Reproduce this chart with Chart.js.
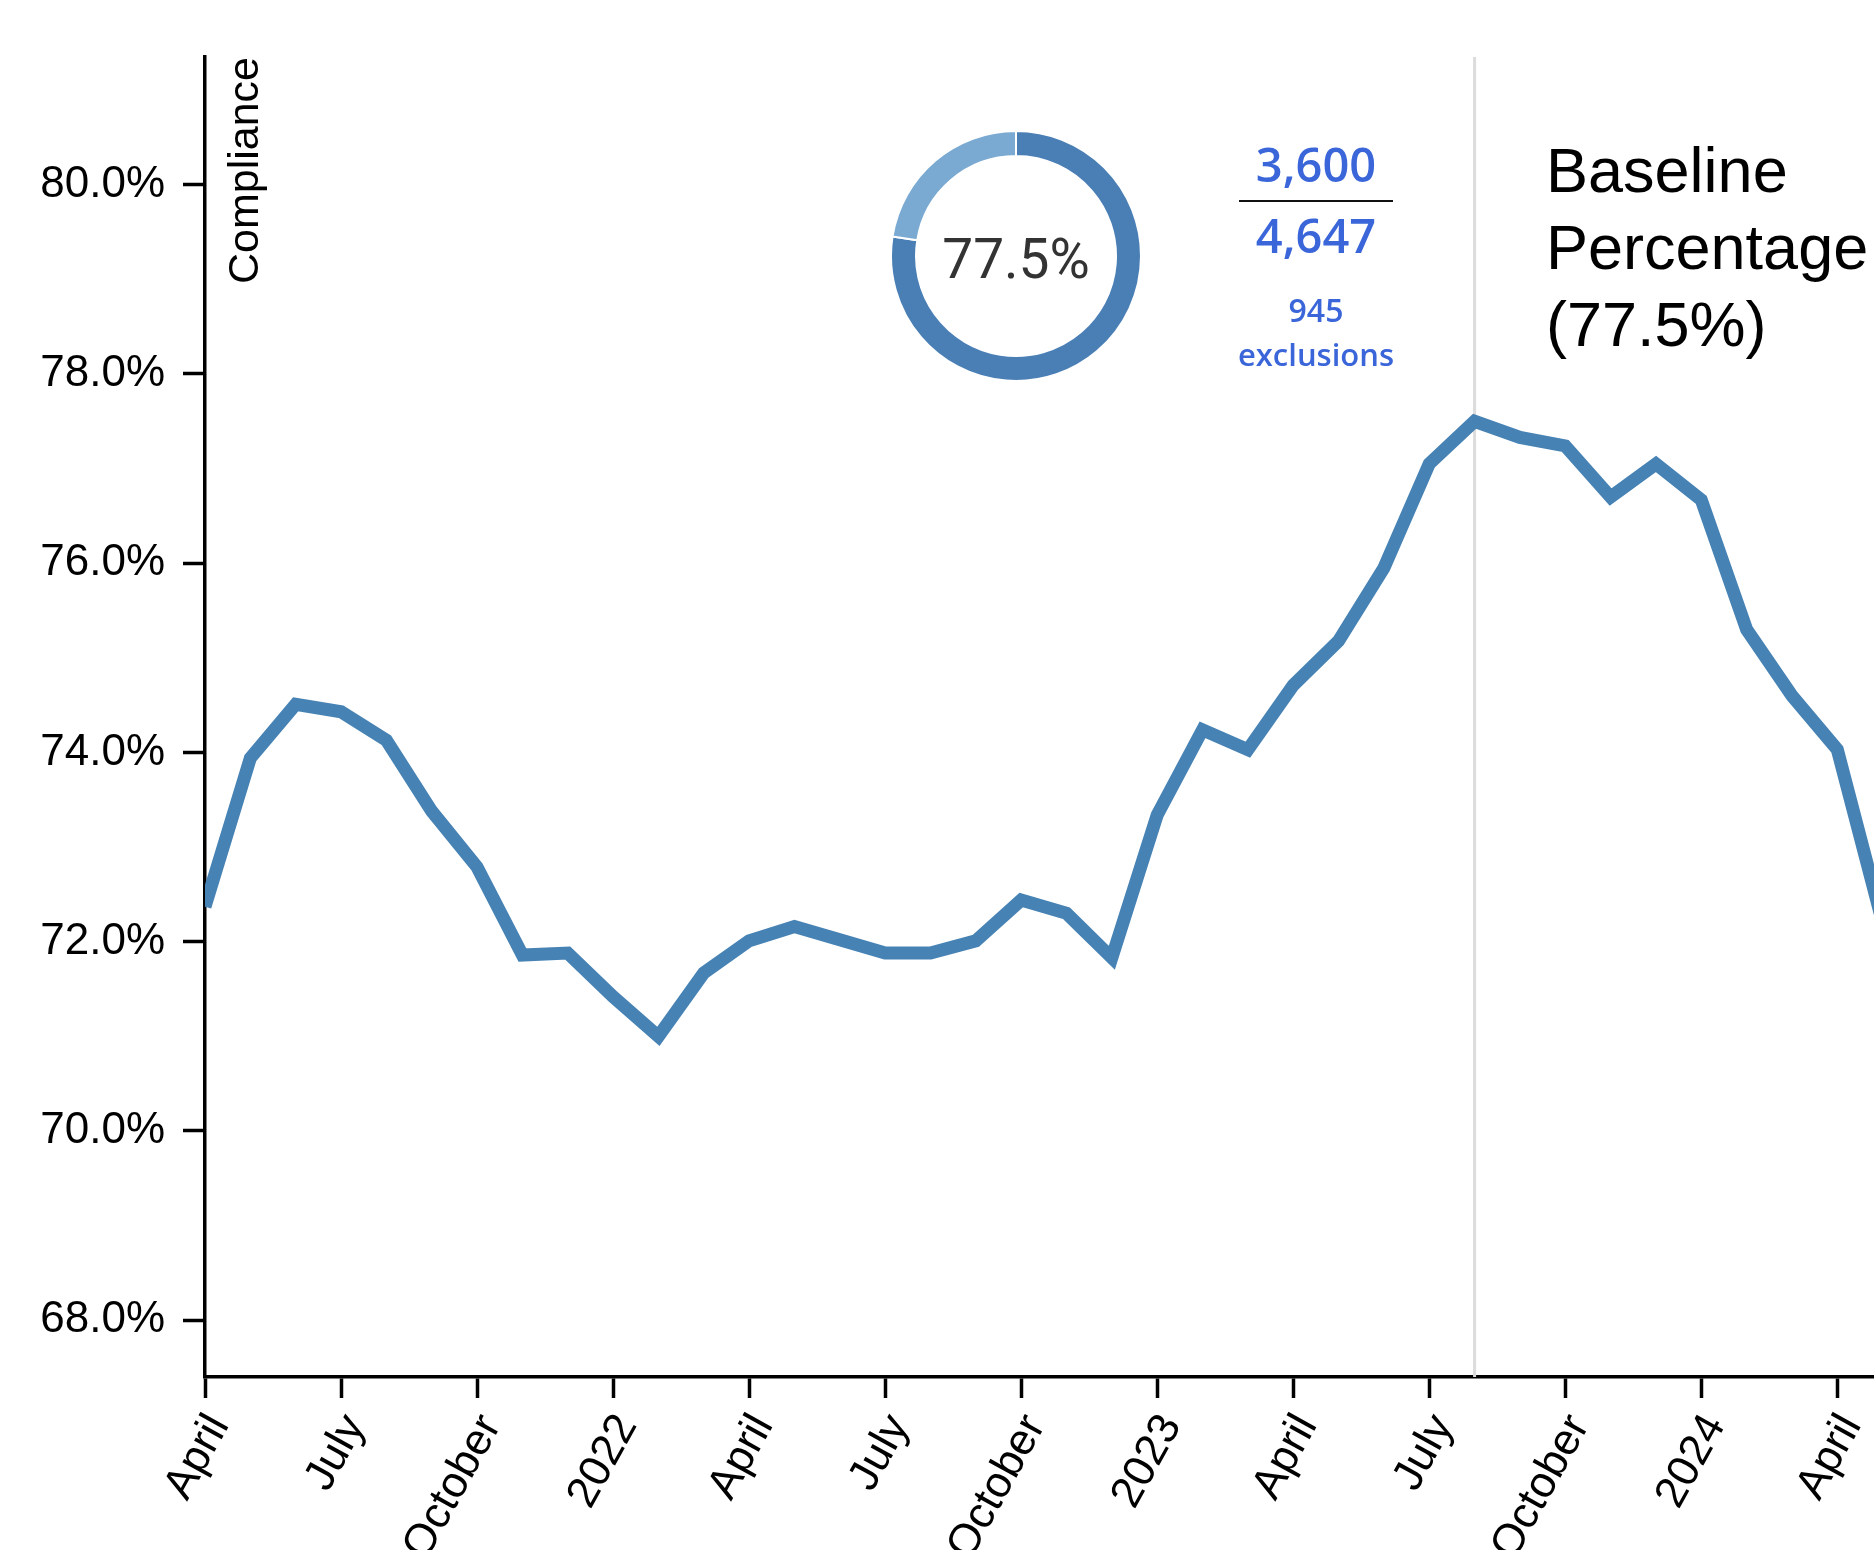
<!DOCTYPE html>
<html><head><meta charset="utf-8">
<script src="https://cdn.jsdelivr.net/npm/chart.js@4.4.1/dist/chart.umd.min.js"></script>
<style>
html,body{margin:0;padding:0;width:1874px;height:1550px;overflow:hidden;background:#fff;}
#wrap{position:relative;width:1874px;height:1550px;overflow:hidden;background:#fff;}
#main{position:absolute;left:0;top:0;width:1960px;height:1550px;}
#donut{position:absolute;left:890px;top:130px;width:252px;height:252px;}
.t{position:absolute;white-space:nowrap;}
.num{left:1216px;width:200px;text-align:center;font-family:'Open Sans',sans-serif;font-weight:600;color:#3a66da;}
</style></head><body>
<div id="wrap">
<canvas id="main" width="1960" height="1550"></canvas>
<canvas id="donut" width="252" height="252"></canvas>
<div class="t" id="pct" style="left:916px;width:200px;text-align:center;top:232px;font:55px/55px Roboto,sans-serif;color:#333;"></div>
<div class="t num" id="num1" style="top:141px;font-size:47px;line-height:47px;"></div>
<div class="t" style="left:1239px;top:200px;width:154px;height:2px;background:#111;"></div>
<div class="t num" id="num2" style="top:212px;font-size:47px;line-height:47px;"></div>
<div class="t num" id="excl1" style="top:294px;font-size:32px;line-height:32px;"></div>
<div class="t num" id="excl2" style="top:339px;font-size:31px;line-height:31px;">exclusions</div>
<div class="t" id="basetxt" style="left:1546px;top:132px;font:63px/77px 'Liberation Sans',Arial,sans-serif;color:#000;"></div>
</div>
<script>
// ---- data ----
const months = ['2021-04','2021-05','2021-06','2021-07','2021-08','2021-09','2021-10','2021-11','2021-12',
  '2022-01','2022-02','2022-03','2022-04','2022-05','2022-06','2022-07','2022-08','2022-09','2022-10','2022-11','2022-12',
  '2023-01','2023-02','2023-03','2023-04','2023-05','2023-06','2023-07','2023-08','2023-09','2023-10','2023-11','2023-12',
  '2024-01','2024-02','2024-03','2024-04','2024-05'];
const compliance = [72.37,73.94,74.51,74.43,74.13,73.38,72.79,71.86,71.88,
  71.42,71.00,71.67,72.01,72.16,72.02,71.88,71.88,72.01,72.44,72.30,71.83,
  73.34,74.24,74.03,74.71,75.18,75.95,77.05,77.50,77.33,77.24,76.70,77.05,
  76.67,75.30,74.60,74.03,72.20];
const tickMonths = ['2021-04','2021-07','2021-10','2022-01','2022-04','2022-07','2022-10','2023-01','2023-04','2023-07','2023-10','2024-01','2024-04'];
const tickLabels = ['April','July','October','2022','April','July','October','2023','April','July','October','2024','April'];
const yTicks = [68,70,72,74,76,78,80];
const baselineMonth = '2023-08';
const baselinePct = 77.5;
const numerator = 3600, denominator = 4647, exclusions = 945;
const donutValues = [77.5, 22.5];
const axisTitle = 'Compliance';

// ---- texts ----
const fmt = n => n.toLocaleString('en-US');
document.getElementById('pct').textContent = baselinePct.toFixed(1) + '%';
document.getElementById('num1').textContent = fmt(numerator);
document.getElementById('num2').textContent = fmt(denominator);
document.getElementById('excl1').textContent = fmt(exclusions);
document.getElementById('basetxt').innerHTML = 'Baseline<br>Percentage<br>(' + baselinePct.toFixed(1) + '%)';

const baselinePlugin = {
  id: 'baselineLine',
  beforeDatasetsDraw(chart) {
    const {ctx, chartArea, scales} = chart;
    const x = scales.x.getPixelForValue(months.indexOf(baselineMonth));
    ctx.save();
    ctx.strokeStyle = '#dcdcdc';
    ctx.lineWidth = 3;
    ctx.beginPath();
    ctx.moveTo(x, chartArea.top);
    ctx.lineTo(x, chartArea.bottom);
    ctx.stroke();
    ctx.restore();
  }
};
const titlePlugin = {
  id: 'yTitle',
  afterDraw(chart) {
    const {ctx, chartArea} = chart;
    ctx.save();
    ctx.translate(chartArea.left + 53, chartArea.top);
    ctx.rotate(-Math.PI / 2);
    ctx.font = '43px "Liberation Sans", Arial, sans-serif';
    ctx.fillStyle = '#000';
    ctx.textAlign = 'right';
    ctx.textBaseline = 'alphabetic';
    ctx.fillText(axisTitle, 0, 0);
    ctx.restore();
  }
};

Chart.defaults.font.family = "'Liberation Sans', Arial, sans-serif";

new Chart(document.getElementById('main'), {
  type: 'line',
  data: { datasets: [{
    data: compliance.map((v, i) => ({x: i, y: v})),
    borderColor: '#4682b4', borderWidth: 13, pointRadius: 0, tension: 0, fill: false
  }]},
  options: {
    responsive: false, animation: false, devicePixelRatio: 1, events: [],
    layout: { padding: { left: 0, top: 57, right: 32, bottom: 0 } },
    plugins: { legend: { display: false }, tooltip: { enabled: false } },
    scales: {
      x: {
        type: 'linear', min: 0, max: 38,
        afterBuildTicks: s => { s.ticks = tickMonths.map(m => ({value: months.indexOf(m)})); },
        afterFit: s => { s.height = 173; },
        grid: { display: true, drawOnChartArea: false, drawTicks: true, tickLength: 21, tickWidth: 3.5, tickColor: '#000', color: '#000' },
        border: { display: true, color: '#000', width: 3.5 },
        ticks: { autoSkip: false, maxRotation: 61, minRotation: 61, padding: 8, labelOffset: 14, color: '#000',
          font: { size: 44 }, callback: (v, i) => tickLabels[i] }
      },
      y: {
        min: 67.4, max: 81.35,
        afterBuildTicks: s => { s.ticks = yTicks.map(v => ({value: v})); },
        afterFit: s => { s.width = 205; },
        grid: { display: true, drawOnChartArea: false, drawTicks: true, tickLength: 22, tickWidth: 3.5, tickColor: '#000', color: '#000' },
        border: { display: true, color: '#000', width: 3.5 },
        ticks: { padding: 18, color: '#000', font: { size: 44 }, callback: v => v.toFixed(1) + '%' }
      }
    }
  },
  plugins: [baselinePlugin, titlePlugin]
});

new Chart(document.getElementById('donut'), {
  type: 'doughnut',
  data: { datasets: [{ data: donutValues, backgroundColor: ['#4a7fb6', '#7aaad2'], borderColor: '#fff', borderWidth: 2 }] },
  options: {
    responsive: false, animation: false, devicePixelRatio: 1, events: [],
    cutout: '80%',
    layout: { padding: 0 },
    plugins: { legend: { display: false }, tooltip: { enabled: false } }
  }
});
</script>
</body></html>
